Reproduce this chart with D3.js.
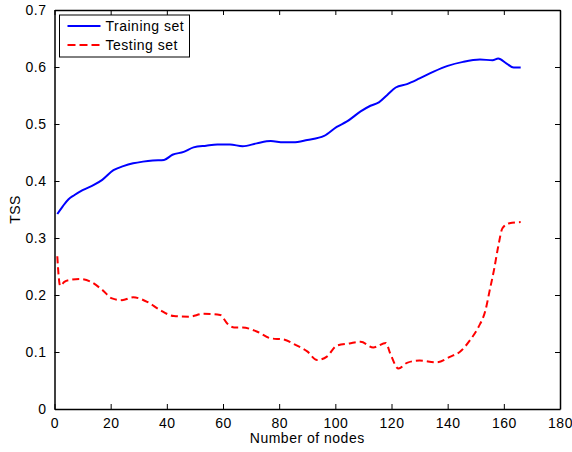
<!DOCTYPE html>
<html>
<head>
<meta charset="utf-8">
<script src="https://cdn.jsdelivr.net/npm/d3@7"></script>
<style>
  body { margin: 0; background: #fff; }
  text { font-family: "Liberation Sans", Arial, sans-serif; font-size: 14px; letter-spacing: 0.5px; fill: #000; }
</style>
</head>
<body>
<div id="chart"></div>
<script>
const width = 572;
const height = 452;
const margins = { top: 10, right: 12, bottom: 43, left: 54.5 };
const effectiveWidth = width - margins.left - margins.right;
const effectiveHeight = height - margins.top - margins.bottom;

const xTicks = [0, 20, 40, 60, 80, 100, 120, 140, 160, 180];
const yTicks = [0, 0.1, 0.2, 0.3, 0.4, 0.5, 0.6, 0.7];

const trainNodes = [1, 3, 5, 7, 10, 14, 17, 21, 24.5, 28, 31.5, 35, 39, 42, 46, 49.5, 54, 58, 62.5, 67, 72, 77, 81.5, 85, 90, 96, 100.5, 104, 109, 112.5, 115.5, 118.5, 121.5, 125.5, 130, 135, 140, 145.5, 151.5, 156, 158, 161, 163.5, 166];
const trainTSS = [0.342, 0.356, 0.368, 0.375, 0.384, 0.393, 0.402, 0.419, 0.426, 0.431, 0.434, 0.436, 0.437, 0.446, 0.451, 0.459, 0.462, 0.464, 0.464, 0.461, 0.466, 0.470, 0.468, 0.468, 0.472, 0.479, 0.495, 0.504, 0.522, 0.532, 0.538, 0.551, 0.564, 0.570, 0.580, 0.592, 0.602, 0.609, 0.613, 0.612, 0.615, 0.606, 0.599, 0.599];

const testNodes = [1, 1.5, 2, 3.5, 5, 9, 13, 17, 20.5, 24, 28, 33, 37.5, 42.5, 48, 53, 59, 61.5, 64, 67, 72, 77, 81.5, 86, 90, 93.5, 97, 100.5, 105, 109, 113.5, 118, 119.5, 122.5, 125.5, 130, 136, 141, 144.5, 148, 151, 153.5, 155, 156.5, 158, 159.5, 162, 166];
const testTSS = [0.268, 0.232, 0.216, 0.223, 0.226, 0.228, 0.223, 0.209, 0.194, 0.191, 0.196, 0.188, 0.174, 0.163, 0.162, 0.167, 0.165, 0.150, 0.143, 0.143, 0.136, 0.124, 0.122, 0.112, 0.101, 0.086, 0.092, 0.111, 0.115, 0.118, 0.108, 0.116, 0.098, 0.071, 0.081, 0.085, 0.082, 0.092, 0.101, 0.121, 0.144, 0.174, 0.209, 0.244, 0.285, 0.317, 0.326, 0.328];

const seriesNames = ['Training set', 'Testing set'];

const svg = d3.select('#chart')
  .append('svg')
  .attr('width', width)
  .attr('height', height)
  .append('g')
  .attr('transform', 'translate(' + margins.left + ',' + margins.top + ')');

const xScale = d3.scaleLinear().domain([0, 180]).range([0, effectiveWidth]);
const yScale = d3.scaleLinear().domain([0, 0.7]).range([effectiveHeight, 0]);

/* Axes, MATLAB style: box with inward ticks */
const fmtY = d => d === 0 ? '0' : d3.format('.1f')(d);

const xb = svg.append('g')
  .attr('transform', 'translate(0,' + effectiveHeight + ')')
  .call(d3.axisBottom(xScale).tickValues(xTicks).tickSizeInner(-5).tickSizeOuter(0).tickPadding(9));
const xt = svg.append('g')
  .call(d3.axisTop(xScale).tickValues(xTicks).tickSizeInner(-5).tickSizeOuter(0).tickFormat(''));
const yl = svg.append('g')
  .call(d3.axisLeft(yScale).tickValues(yTicks).tickFormat(fmtY).tickSizeInner(-5).tickSizeOuter(0).tickPadding(8));
const yr = svg.append('g')
  .attr('transform', 'translate(' + effectiveWidth + ',0)')
  .call(d3.axisRight(yScale).tickValues(yTicks).tickSizeInner(-5).tickSizeOuter(0).tickFormat(''));

[xb, xt, yl, yr].forEach(g => {
  g.select('.domain').attr('stroke', '#000').attr('stroke-width', 1.5);
  g.selectAll('.tick line').attr('stroke', '#000');
  g.selectAll('text').attr('font-family', null).attr('font-size', null).attr('fill', '#000');
});

svg.append('text')
  .attr('x', effectiveWidth / 2)
  .attr('y', effectiveHeight + 34)
  .attr('text-anchor', 'middle')
  .text('Number of nodes');

svg.append('text')
  .attr('transform', 'translate(' + (-35) + ',' + (effectiveHeight / 2) + ') rotate(-90)')
  .attr('text-anchor', 'middle')
  .text('TSS');

/* Data */
const line = d3.line()
  .x(d => xScale(d[0]))
  .y(d => yScale(d[1]))
  .curve(d3.curveMonotoneX);

svg.append('path')
  .datum(trainNodes.map((n, i) => [n, trainTSS[i]]))
  .attr('d', line)
  .attr('fill', 'none')
  .attr('stroke', '#0000ff')
  .attr('stroke-width', 2);

svg.append('path')
  .datum(testNodes.map((n, i) => [n, testTSS[i]]))
  .attr('d', line)
  .attr('fill', 'none')
  .attr('stroke', '#ff0000')
  .attr('stroke-width', 2)
  .attr('stroke-dasharray', '7,4');

/* Legend */
const legend = svg.append('g').attr('transform', 'translate(5,5)');
legend.append('rect')
  .attr('width', 130)
  .attr('height', 42)
  .attr('fill', '#fff')
  .attr('stroke', '#000')
  .attr('stroke-width', 1);

const styles = [{ color: '#0000ff', dash: null }, { color: '#ff0000', dash: '8,4' }];
seriesNames.forEach((name, i) => {
  const y = 11 + i * 19;
  legend.append('line')
    .attr('x1', 8).attr('x2', 41)
    .attr('y1', y).attr('y2', y)
    .attr('stroke', styles[i].color)
    .attr('stroke-width', 2)
    .attr('stroke-dasharray', styles[i].dash);
  legend.append('text')
    .attr('x', 46)
    .attr('y', y + 5)
    .text(name);
});
</script>
</body>
</html>
